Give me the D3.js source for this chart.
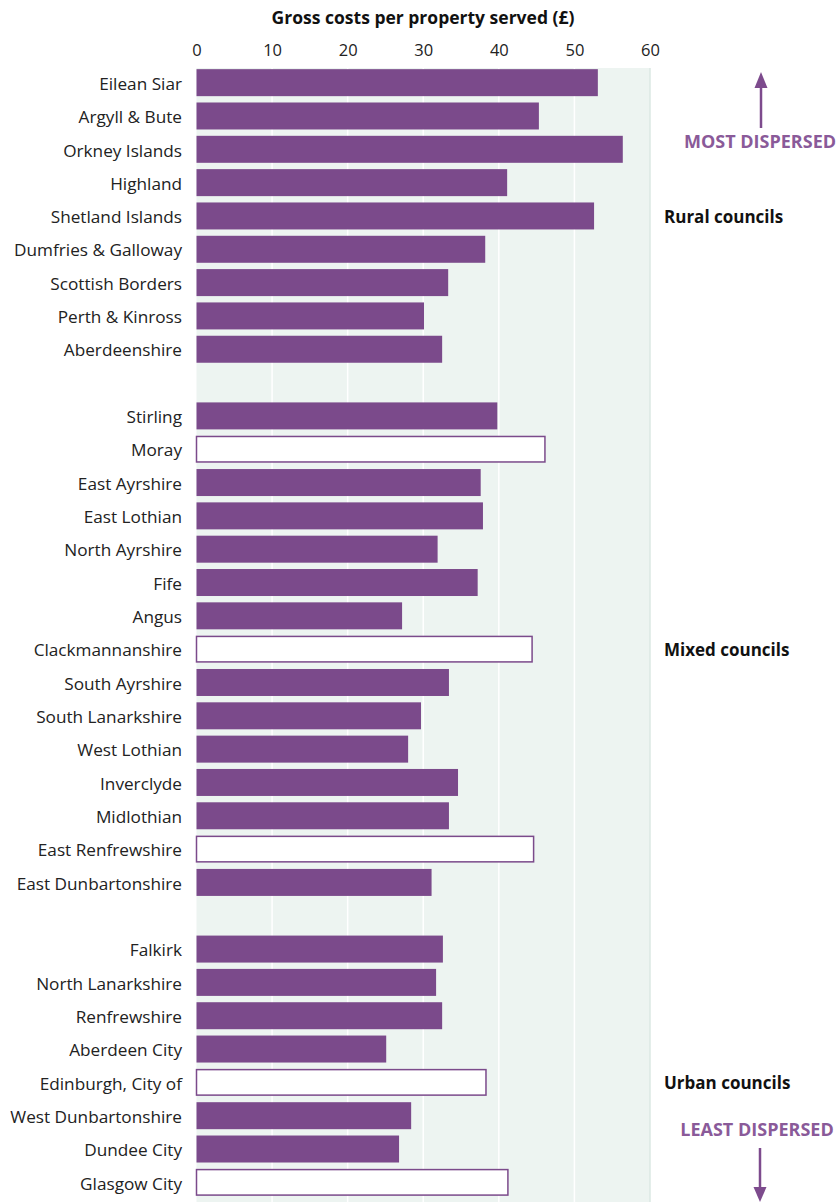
<!DOCTYPE html>
<html><head><meta charset="utf-8">
<script src="https://cdn.jsdelivr.net/npm/d3@7"></script>
<style>body{margin:0;background:#fff;} text{font-family:"Open Sans",sans-serif;}</style>
</head><body><svg id="c" width="840" height="1202"></svg>
<script>
const councils = ["Eilean Siar","Argyll & Bute","Orkney Islands","Highland","Shetland Islands","Dumfries & Galloway","Scottish Borders","Perth & Kinross","Aberdeenshire","__gap1",
"Stirling","Moray","East Ayrshire","East Lothian","North Ayrshire","Fife","Angus","Clackmannanshire","South Ayrshire","South Lanarkshire","West Lothian","Inverclyde","Midlothian","East Renfrewshire","East Dunbartonshire","__gap2",
"Falkirk","North Lanarkshire","Renfrewshire","Aberdeen City","Edinburgh, City of","West Dunbartonshire","Dundee City","Glasgow City"];
const costs = [53.1,45.3,56.4,41.1,52.6,38.2,33.3,30.1,32.5,null,
39.8,46.1,37.6,37.9,31.9,37.2,27.2,44.4,33.4,29.7,28.0,34.6,33.4,44.6,31.1,null,
32.6,31.7,32.5,25.1,38.3,28.4,26.8,41.2];
const outlined = ["Moray","Clackmannanshire","East Renfrewshire","Edinburgh, City of","Glasgow City"];
const groupLabels = [["Rural councils","Shetland Islands"],["Mixed councils","Clackmannanshire"],["Urban councils","Edinburgh, City of"]];
const xTicks = [0,10,20,30,40,50,60];
const axisTitle = "Gross costs per property served (£)";

const svg = d3.select("#c");
const purple = "#7b4a8b";
const x = d3.scaleLinear().domain([0,60]).range([196.5,650]);
const y = d3.scaleBand().domain(councils).range([66,1199]).paddingInner(0.19).paddingOuter(0.095);

// panel
svg.append("rect").attr("x",x(0)).attr("y",68).attr("width",x(60)-x(0)).attr("height",1202-68).attr("fill","#edf4f1");
svg.append("line").attr("x1",x(60)).attr("x2",x(60)).attr("y1",68).attr("y2",1202).attr("stroke","#dbe9e3").attr("stroke-width",1.5);
// grid
svg.append("g").selectAll("line").data(xTicks.slice(1,-1)).join("line")
  .attr("x1",d=>x(d)).attr("x2",d=>x(d)).attr("y1",68).attr("y2",1202).attr("stroke","#fff").attr("stroke-width",1.5);

// axis
const ax = svg.append("g").attr("transform","translate(0,56)").call(d3.axisTop(x).tickValues(xTicks).tickSize(0).tickPadding(0));
ax.select(".domain").remove();
ax.selectAll("text").attr("font-family","Open Sans").attr("font-size",16.5).attr("fill","#222");
svg.append("text").attr("x",423).attr("y",24).attr("text-anchor","middle").attr("font-size",17.5).attr("font-weight","bold").attr("fill","#111").text(axisTitle);

const rows = councils.map((c,i)=>({c,v:costs[i]})).filter(d=>d.v!==null);
// bars
svg.append("g").selectAll("rect").data(rows).join("rect")
  .attr("x",x(0)).attr("y",d=>y(d.c)+(outlined.includes(d.c)?0.75:0))
  .attr("width",d=>x(d.v)-x(0)).attr("height",d=>y.bandwidth()-(outlined.includes(d.c)?1.5:0))
  .attr("fill",d=>outlined.includes(d.c)?"#fff":purple)
  .attr("stroke",d=>outlined.includes(d.c)?purple:"none").attr("stroke-width",1.5);
// labels
svg.append("g").selectAll("text").data(rows).join("text")
  .attr("x",182).attr("y",d=>y(d.c)+y.bandwidth()/2+1).attr("dy","0.36em").attr("text-anchor","end")
  .attr("font-size",17.2).attr("fill","#222").text(d=>d.c);
// group labels
svg.append("g").selectAll("text").data(groupLabels).join("text")
  .attr("x",664).attr("y",d=>y(d[1])+y.bandwidth()/2+1).attr("dy","0.36em")
  .attr("font-size",17).attr("font-weight","bold").attr("fill","#111").text(d=>d[0]);

// annotations
const anno = "#7d4b8d";
svg.append("text").attr("x",760).attr("y",148).attr("text-anchor","middle").attr("font-size",18).attr("font-weight","bold").attr("fill","#8a5a99").text("MOST DISPERSED");
svg.append("text").attr("x",757).attr("y",1136).attr("text-anchor","middle").attr("font-size",18).attr("font-weight","bold").attr("fill","#8a5a99").text("LEAST DISPERSED");
svg.append("line").attr("x1",761).attr("x2",761).attr("y1",85).attr("y2",128).attr("stroke",anno).attr("stroke-width",2.5);
svg.append("path").attr("d","M761,72 L754.5,88 L767.5,88 Z").attr("fill",anno);
svg.append("line").attr("x1",760).attr("x2",760).attr("y1",1148).attr("y2",1190).attr("stroke",anno).attr("stroke-width",2.5);
svg.append("path").attr("d","M760,1202 L753.5,1187 L766.5,1187 Z").attr("fill",anno);
</script></body></html>
